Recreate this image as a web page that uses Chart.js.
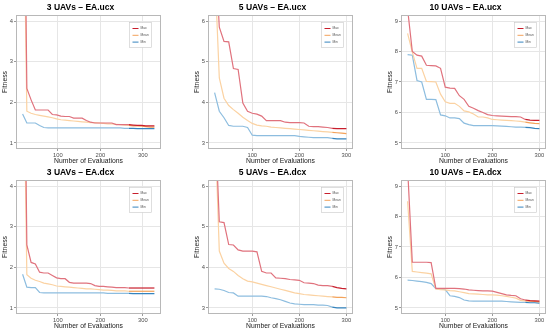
<!DOCTYPE html>
<html>
<head>
<meta charset="utf-8">
<script src="https://cdn.jsdelivr.net/npm/chart.js@4.4.1/dist/chart.umd.min.js"></script>
<style>
  html, body { margin: 0; padding: 0; background: #fff; overflow: hidden; width: 550px; height: 332px; }
  canvas { position: absolute; }
</style>
</head>
<body>
<canvas id="c1" width="177" height="166" style="left:0;top:0"></canvas>
<canvas id="c2" width="177" height="166" style="left:192px;top:0"></canvas>
<canvas id="c3" width="177" height="166" style="left:385px;top:0"></canvas>
<canvas id="c4" width="177" height="166" style="left:0;top:165px"></canvas>
<canvas id="c5" width="177" height="166" style="left:192px;top:165px"></canvas>
<canvas id="c6" width="177" height="166" style="left:385px;top:165px"></canvas>
<script>
// evaluations (x) for the 3-UAV runs and for the 5/10-UAV runs
const evals3 = [17, 27, 37, 47, 57, 67, 77, 87, 97, 107, 117, 127, 137, 147, 157, 167,
    177, 187, 197, 207, 217, 227, 237, 247, 257, 267, 277, 287, 297, 307, 317, 327];
const evals = [20, 30, 40, 50, 60, 70, 80, 90, 100, 110, 120, 130, 140, 150, 160,
    170, 180, 190, 200, 210, 220, 230, 240, 250, 260, 270, 280, 290, 300];

const seriesNames = ['Max', 'Mean', 'Min'];
const titles = ['3 UAVs – EA.ucx', '5 UAVs – EA.ucx', '10 UAVs – EA.ucx',
    '3 UAVs – EA.dcx', '5 UAVs – EA.dcx', '10 UAVs – EA.dcx'];

// tick labels
const xTicks = [100, 200, 300];
const yTicks3 = [1, 2, 3, 4];
const yTicks5 = [3, 4, 5, 6];
const yTicks10 = [5, 6, 7, 8, 9];

// fitness values
const ucx3Max = [12, 2.34, 2.06, 1.81, 1.81, 1.81, 1.81, 1.70, 1.69, 1.66, 1.65, 1.65, 1.61, 1.61, 1.61, 1.55,
    1.51, 1.49, 1.49, 1.49, 1.49, 1.49, 1.45, 1.45, 1.45, 1.45, 1.44, 1.43, 1.43, 1.42, 1.42, 1.42];
const ucx3Mean = [9, 1.78, 1.73, 1.70, 1.68, 1.66, 1.64, 1.62, 1.59, 1.57, 1.56, 1.55, 1.54, 1.53, 1.52, 1.51,
    1.50, 1.50, 1.49, 1.48, 1.47, 1.47, 1.46, 1.45, 1.44, 1.43, 1.42, 1.42, 1.41, 1.40, 1.39, 1.39];
const ucx3Min = [1.71, 1.49, 1.49, 1.49, 1.43, 1.38, 1.37, 1.37, 1.37, 1.37, 1.37, 1.37, 1.37, 1.37, 1.37, 1.37,
    1.37, 1.37, 1.37, 1.37, 1.37, 1.37, 1.37, 1.37, 1.36, 1.36, 1.36, 1.35, 1.35, 1.35, 1.35, 1.35];

const ucx5Max = [8.0, 5.85, 5.5, 5.49, 4.83, 4.81, 3.98, 3.78, 3.73, 3.71, 3.66, 3.55, 3.55, 3.55, 3.55,
    3.51, 3.5, 3.5, 3.5, 3.49, 3.41, 3.4, 3.4, 3.39, 3.38, 3.36, 3.35, 3.35, 3.35];
const ucx5Mean = [7.4, 4.6, 4.1, 3.92, 3.82, 3.73, 3.63, 3.55, 3.48, 3.44, 3.42, 3.41, 3.39, 3.38, 3.37,
    3.36, 3.35, 3.34, 3.33, 3.32, 3.31, 3.30, 3.29, 3.28, 3.27, 3.26, 3.25, 3.24, 3.23];
const ucx5Min = [4.24, 3.78, 3.62, 3.43, 3.41, 3.41, 3.41, 3.38, 3.19, 3.18, 3.18, 3.18, 3.18, 3.18, 3.18,
    3.18, 3.18, 3.18, 3.16, 3.15, 3.14, 3.13, 3.13, 3.13, 3.13, 3.11, 3.1, 3.1, 3.1];

const ucx10Max = [9.4, 8.0, 7.88, 7.85, 7.55, 7.54, 7.53, 7.45, 6.83, 6.80, 6.79, 6.55, 6.43, 6.2, 6.14,
    6.06, 6.0, 5.93, 5.9, 5.89, 5.88, 5.87, 5.86, 5.86, 5.85, 5.77, 5.75, 5.74, 5.74];
const ucx10Mean = [8.6, 7.98, 7.45, 7.45, 7.02, 7.01, 7.0, 6.6, 6.35, 6.3, 6.3, 6.2, 6.05, 6.02, 5.95,
    5.85, 5.85, 5.82, 5.77, 5.76, 5.75, 5.74, 5.73, 5.72, 5.71, 5.68, 5.66, 5.64, 5.63];
const ucx10Min = [7.9, 7.88, 7.05, 7.0, 6.43, 6.43, 6.42, 5.92, 5.89, 5.82, 5.82, 5.8, 5.65, 5.6, 5.57,
    5.57, 5.57, 5.57, 5.57, 5.56, 5.55, 5.54, 5.53, 5.52, 5.52, 5.51, 5.5, 5.48, 5.47];

const dcx3Max = [12, 2.55, 2.12, 2.08, 1.88, 1.86, 1.86, 1.80, 1.74, 1.72, 1.72, 1.63, 1.61, 1.61, 1.61, 1.61,
    1.60, 1.55, 1.53, 1.53, 1.52, 1.51, 1.50, 1.50, 1.50, 1.49, 1.49, 1.49, 1.49, 1.49, 1.49, 1.49];
const dcx3Mean = [9, 1.82, 1.73, 1.68, 1.65, 1.61, 1.59, 1.57, 1.54, 1.53, 1.52, 1.51, 1.50, 1.49, 1.48, 1.47,
    1.47, 1.46, 1.45, 1.44, 1.44, 1.43, 1.42, 1.42, 1.42, 1.41, 1.41, 1.41, 1.41, 1.41, 1.41, 1.41];
const dcx3Min = [1.83, 1.51, 1.50, 1.50, 1.38, 1.37, 1.37, 1.37, 1.37, 1.37, 1.37, 1.37, 1.37, 1.37, 1.37, 1.37,
    1.37, 1.37, 1.37, 1.37, 1.36, 1.36, 1.36, 1.36, 1.36, 1.36, 1.35, 1.35, 1.35, 1.35, 1.35, 1.35];

const dcx5Max = [8.0, 5.12, 5.1, 4.56, 4.55, 4.43, 4.4, 4.4, 4.4, 4.38, 3.9, 3.86, 3.86, 3.74, 3.73,
    3.72, 3.7, 3.69, 3.68, 3.62, 3.61, 3.6, 3.56, 3.55, 3.55, 3.53, 3.5, 3.48, 3.47];
const dcx5Mean = [7.8, 4.4, 4.1, 3.97, 3.9, 3.8, 3.72, 3.66, 3.64, 3.61, 3.58, 3.55, 3.52, 3.49, 3.46,
    3.43, 3.4, 3.37, 3.35, 3.33, 3.32, 3.31, 3.3, 3.29, 3.28, 3.27, 3.26, 3.26, 3.25];
const dcx5Min = [3.47, 3.46, 3.43, 3.38, 3.37, 3.29, 3.29, 3.29, 3.29, 3.29, 3.29, 3.28, 3.25, 3.23, 3.2,
    3.16, 3.12, 3.1, 3.09, 3.08, 3.08, 3.08, 3.07, 3.07, 3.06, 3.02, 3.0, 3.0, 3.0];

const dcx10Max = [9.6, 6.5, 6.5, 6.5, 6.5, 6.49, 5.64, 5.64, 5.64, 5.64, 5.64, 5.63, 5.62, 5.59, 5.58,
    5.57, 5.56, 5.56, 5.55, 5.51, 5.47, 5.43, 5.41, 5.4, 5.3, 5.26, 5.24, 5.23, 5.22];
const dcx10Mean = [8.5, 6.2, 6.18, 6.16, 6.14, 6.12, 5.62, 5.6, 5.59, 5.57, 5.56, 5.53, 5.5, 5.47, 5.46,
    5.45, 5.44, 5.43, 5.43, 5.42, 5.4, 5.38, 5.35, 5.32, 5.25, 5.23, 5.22, 5.21, 5.2];
const dcx10Min = [5.91, 5.9, 5.88, 5.86, 5.84, 5.8, 5.63, 5.62, 5.6, 5.4, 5.38, 5.34, 5.26, 5.23, 5.22,
    5.22, 5.22, 5.22, 5.22, 5.22, 5.22, 5.21, 5.2, 5.19, 5.18, 5.18, 5.17, 5.17, 5.16];

const lightColors = ['#e0727d', '#fbd2a2', '#8dbddf'];
const darkColors = ['#c81e2c', '#f3a25a', '#3584be'];
const FONT = "'Liberation Sans', Arial, sans-serif";

const panels = [
    { id: 'c1', x: evals3, series: [ucx3Max, ucx3Mean, ucx3Min], xr: [1.5, 342.5], yr: [0.85, 4.15], yt: yTicks3 },
    { id: 'c2', x: evals, series: [ucx5Max, ucx5Mean, ucx5Min], xr: [6, 314], yr: [2.85, 6.15], yt: yTicks5 },
    { id: 'c3', x: evals, series: [ucx10Max, ucx10Mean, ucx10Min], xr: [6, 314], yr: [4.8, 9.2], yt: yTicks10 },
    { id: 'c4', x: evals3, series: [dcx3Max, dcx3Mean, dcx3Min], xr: [1.5, 342.5], yr: [0.85, 4.15], yt: yTicks3 },
    { id: 'c5', x: evals, series: [dcx5Max, dcx5Mean, dcx5Min], xr: [6, 314], yr: [2.85, 6.15], yt: yTicks5 },
    { id: 'c6', x: evals, series: [dcx10Max, dcx10Mean, dcx10Min], xr: [6, 314], yr: [4.8, 9.2], yt: yTicks10 }
];

// panel border + small legend box in the top right corner
const panelFrame = {
    id: 'panelFrame',
    afterDraw(chart) {
        const { ctx, chartArea: a } = chart;
        ctx.save();
        ctx.strokeStyle = '#b8b8b8';
        ctx.lineWidth = 1;
        ctx.strokeRect(a.left + 0.5, a.top + 0.5, a.width - 1, a.height - 1);

        const bw = 22, bh = 25;
        const bx = Math.round(a.right - 10 - bw) + 0.5, by = Math.round(a.top + 7) + 0.5;
        ctx.fillStyle = '#fff';
        ctx.fillRect(bx, by, bw, bh);
        ctx.strokeStyle = '#c8c8c8';
        ctx.lineWidth = 0.6;
        ctx.strokeRect(bx, by, bw, bh);
        ctx.font = '3.3px ' + FONT;
        ctx.textBaseline = 'middle';
        seriesNames.forEach((name, k) => {
            const y = by + 6 + k * 6.8;
            ctx.strokeStyle = darkColors[k];
            ctx.lineWidth = 1;
            ctx.beginPath();
            ctx.moveTo(bx + 3, y);
            ctx.lineTo(bx + 9, y);
            ctx.stroke();
            ctx.fillStyle = '#555';
            ctx.fillText(name, bx + 11, y);
        });
        ctx.restore();
    }
};

panels.forEach((p, n) => {
    new Chart(document.getElementById(p.id), {
        type: 'line',
        data: {
            datasets: seriesNames.map((name, k) => ({
                label: name,
                data: p.x.map((x, i) => ({ x: x, y: p.series[k][i] })),
                borderColor: lightColors[k],
                borderWidth: 1.2,
                pointRadius: 0,
                tension: 0,
                segment: {
                    borderColor: c => c.p0.parsed.x >= 265 ? darkColors[k] : undefined
                }
            }))
        },
        options: {
            responsive: false,
            animation: false,
            layout: { padding: { right: 16 } },
            plugins: {
                legend: { display: false },
                tooltip: { enabled: false },
                title: {
                    display: true,
                    text: titles[n],
                    color: '#000',
                    font: { family: FONT, size: 8.5, weight: 'bold' },
                    padding: { top: 3, bottom: 1.8 }
                }
            },
            scales: {
                x: {
                    type: 'linear',
                    min: p.xr[0],
                    max: p.xr[1],
                    afterFit: s => { s.height = 17; },
                    afterBuildTicks: s => { s.ticks = xTicks.map(v => ({ value: v })); },
                    ticks: {
                        maxRotation: 0, padding: 1,
                        color: '#4d4d4d', font: { family: FONT, size: 5.8 }
                    },
                    grid: { color: '#e6e6e6', tickColor: '#9a9a9a', tickLength: 2 },
                    border: { display: false },
                    title: {
                        display: true, text: 'Number of Evaluations', color: '#1a1a1a',
                        font: { family: FONT, size: 6.8 }, padding: { top: 0, bottom: 1 }
                    }
                },
                y: {
                    min: p.yr[0],
                    max: p.yr[1],
                    afterFit: s => { s.width = 16; },
                    afterBuildTicks: s => { s.ticks = p.yt.map(v => ({ value: v })); },
                    ticks: {
                        padding: 1,
                        color: '#4d4d4d', font: { family: FONT, size: 5.8 }
                    },
                    grid: { color: '#e6e6e6', tickColor: '#9a9a9a', tickLength: 2 },
                    border: { display: false },
                    title: {
                        display: true, text: 'Fitness', color: '#1a1a1a',
                        font: { family: FONT, size: 6.8 }, padding: { top: 1, bottom: 0 }
                    }
                }
            }
        },
        plugins: [panelFrame]
    });
});
</script>
</body>
</html>
